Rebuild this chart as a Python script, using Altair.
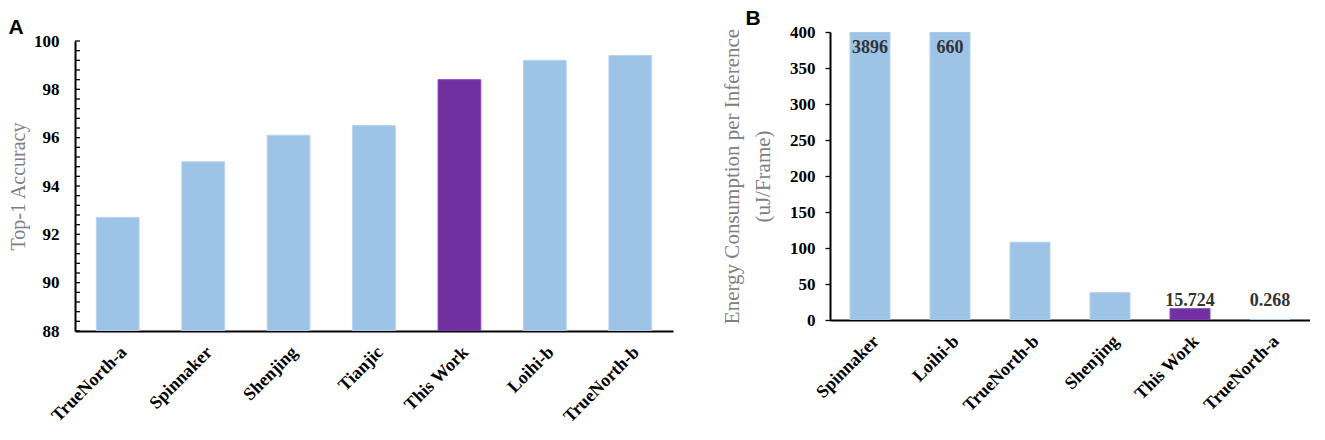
import altair as alt
import pandas as pd

# ---- data ----
left_cats = ["TrueNorth-a", "Spinnaker", "Shenjing", "Tianjic", "This Work", "Loihi-b", "TrueNorth-b"]
left_vals = [92.7, 95.0, 96.1, 96.5, 98.4, 99.2, 99.4]

right_cats = ["Spinnaker", "Loihi-b", "TrueNorth-b", "Shenjing", "This Work", "TrueNorth-a"]
right_vals = [3896, 660, 108, 38, 15.724, 0.268]
right_labels = ["3896", "660", "", "", "15.724", "0.268"]

left_ticks = [round(88 + 0.4 * i, 1) for i in range(31)]
left_major = [88, 90, 92, 94, 96, 98, 100]
right_ticks = [0, 50, 100, 150, 200, 250, 300, 350, 400]

BLUE = "#9DC3E6"
PURPLE = "#7030A0"
SERIF = "Liberation Serif"

left_df = pd.DataFrame({"cat": left_cats, "val": left_vals})
left_df["hl"] = left_df["cat"].eq("This Work")
right_df = pd.DataFrame({"cat": right_cats, "val": right_vals, "label": right_labels})
right_df["hl"] = right_df["cat"].eq("This Work")

color_enc = alt.Color("hl:N", scale=alt.Scale(domain=[False, True], range=[BLUE, PURPLE]), legend=None)
stroke_enc = alt.Stroke("hl:N", scale=alt.Scale(domain=[False, True], range=["#B5D3EE", "#8A45C0"]), legend=None)

y_label_style = dict(labelFont=SERIF, labelFontWeight="bold", labelFontSize=17, labelColor="#000000")

x_axis = alt.Axis(labelAngle=-45, ticks=False, domainColor="#000000", domainWidth=2,
                  labelPadding=12, labelFont=SERIF, labelFontWeight="bold", labelFontSize=18,
                  labelColor="#000000")

# ---- left panel ----
LEFT_H = 299
lx_scale = alt.Scale(paddingInner=0.5, paddingOuter=0.25)
ly_scale = alt.Scale(domain=[88, 100], nice=False, zero=False, range=[LEFT_H, 9])
ly_title = "Top-1 Accuracy"
ly_axis = alt.Axis(values=left_major, ticks=False, labelPadding=16,
                   domainColor="#000000", domainWidth=2, grid=False,
                   titleFont=SERIF, titleFontWeight="normal", titleFontSize=20,
                   titleColor="#808080", titlePadding=5, **y_label_style)

left_bars = alt.Chart(left_df).mark_bar(strokeWidth=1, clip=True).encode(
    x=alt.X("cat:N", sort=left_cats, title=None, scale=lx_scale, axis=x_axis),
    y=alt.Y("val:Q", scale=ly_scale, title=ly_title, axis=ly_axis),
    y2=alt.datum(88),
    color=color_enc,
    stroke=stroke_enc,
)

left_tick_df = pd.DataFrame({"t": left_ticks})
left_tick_rules = alt.Chart(left_tick_df).mark_rule(color="#000000", strokeWidth=1.3).encode(
    y=alt.Y("t:Q", scale=ly_scale, title=ly_title, axis=ly_axis),
    x=alt.value(0),
    x2=alt.value(5),
)

left = alt.layer(left_bars, left_tick_rules).properties(
    width=598, height=LEFT_H,
    title=alt.TitleParams("A", anchor="start", dx=0, font="Liberation Sans", fontSize=21,
                          fontWeight="bold", color="#000000", offset=-6),
)

# ---- right panel ----
rx = alt.X("cat:N", sort=right_cats, title=None,
           scale=alt.Scale(paddingInner=0.5, paddingOuter=0.25), axis=x_axis)
ry_scale = alt.Scale(domain=[0, 400], nice=False, clamp=True)
ry_title = ["Energy Consumption per Inference", "(uJ/Frame)"]
ry_axis = alt.Axis(values=right_ticks, tickSize=5, tickColor="#000000", tickWidth=1.3,
                   labelPadding=10, domainColor="#000000", domainWidth=2, grid=False,
                   titleFont=SERIF, titleFontWeight="normal", titleFontSize=21,
                   titleColor="#808080", titlePadding=16, titleLineHeight=31,
                   **y_label_style)

right_bars = alt.Chart(right_df).mark_bar(strokeWidth=1, clip=True).encode(
    x=rx,
    y=alt.Y("val:Q", scale=ry_scale, title=ry_title, axis=ry_axis),
    color=color_enc,
    stroke=stroke_enc,
)

text_style = dict(font=SERIF, fontWeight="bold", fontSize=18, color="#333333")

right_text_clipped = alt.Chart(right_df).transform_filter(
    "datum.val > 400"
).transform_calculate(val="min(datum.val, 400)").mark_text(baseline="top", dy=7, **text_style).encode(
    x=rx,
    y=alt.Y("val:Q", scale=ry_scale, title=ry_title, axis=ry_axis),
    text="label:N",
)

right_text_small = alt.Chart(right_df).transform_filter(
    "datum.val <= 400 && datum.label != ''"
).transform_calculate(val="max(datum.val, 15.724)").mark_text(
    baseline="alphabetic", dy=-3, **text_style
).encode(
    x=rx,
    y=alt.Y("val:Q", scale=ry_scale, title=ry_title, axis=ry_axis),
    text="label:N",
)

right = alt.layer(right_bars, right_text_clipped, right_text_small).properties(
    width=480, height=288,
    title=alt.TitleParams("B", anchor="start", dx=24, font="Liberation Sans", fontSize=21,
                          fontWeight="bold", color="#000000", offset=-6),
)

chart = alt.hconcat(left, right, spacing=48).resolve_scale(
    color="independent", stroke="independent", x="independent", y="independent"
).properties(
    padding={"left": 0, "top": 0, "right": 0, "bottom": 0}, background="#ffffff"
).configure_view(
    strokeWidth=0, stroke="transparent"
)

chart.save("out.html", embed_options={"renderer": "svg", "actions": False})
